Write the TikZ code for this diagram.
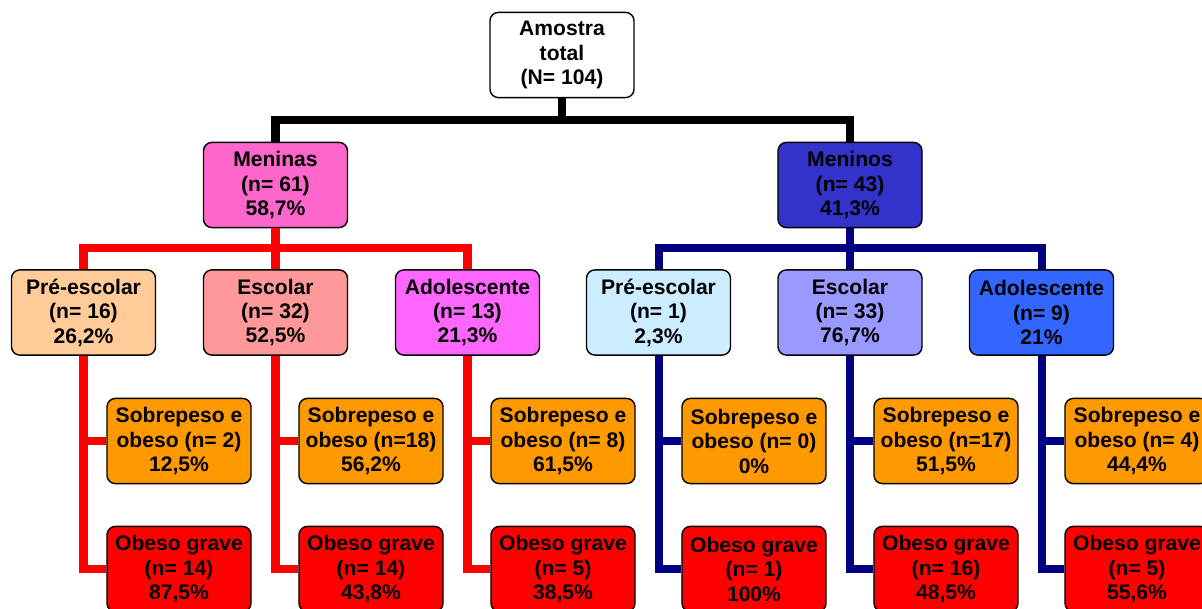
\documentclass[tikz,border=0pt]{standalone}
\usepackage{fontspec}
\setmainfont{Liberation Sans}
\usetikzlibrary{calc}
\definecolor{GirlTop}{HTML}{FF66CC}
\definecolor{BoyTop}{HTML}{3333CC}
\definecolor{GirlPre}{HTML}{FFCC99}
\definecolor{GirlEsc}{HTML}{FF9999}
\definecolor{GirlAdo}{HTML}{FF66FF}
\definecolor{BoyPre}{HTML}{CCECFF}
\definecolor{BoyEsc}{HTML}{9999FF}
\definecolor{BoyAdo}{HTML}{3366FF}
\definecolor{OverW}{HTML}{FF9900}
\definecolor{Severe}{HTML}{FF0000}
\definecolor{BoyLine}{HTML}{000080}

\begin{document}
\begin{tikzpicture}[x=0.025cm,y=-0.025cm]
    \tikzset{box/.style={rounded corners=6pt,draw=black,line width=1pt,fill=white,
      minimum width=3.6cm,minimum height=2.13cm,align=center,inner sep=1pt,
      font=\fontsize{15}{17.4}\selectfont\bfseries},
      trunk/.style={line width=5.7pt},
      girlline/.style={trunk,draw=Severe},
      boyline/.style={trunk,draw=BoyLine}}
    \clip (0,0) rectangle (1202,609);
    % levels
    \node[box] (root) at (562,55) {Amostra\\total\\(N= 104)};
    \node[box,fill=GirlTop] (girls) at (275.5,185) {Meninas\\(n= 61)\\58,7\%};
    \node[box,fill=BoyTop] (boys) at (850,185) {Meninos\\(n= 43)\\41,3\%};
    \node[box,fill=GirlPre] (gpre) at (83.5,312.5) {Pré-escolar\\(n= 16)\\26,2\%};
    \node[box,fill=GirlEsc] (gesc) at (275.5,312.5) {Escolar\\(n= 32)\\52,5\%};
    \node[box,fill=GirlAdo] (gado) at (467.5,312.5) {Adolescente\\(n= 13)\\21,3\%};
    \node[box,fill=BoyPre] (bpre) at (658.5,312.5) {Pré-escolar\\(n= 1)\\2,3\%};
    \node[box,fill=BoyEsc] (besc) at (850,312.5) {Escolar\\(n= 33)\\76,7\%};
    \node[box,fill=BoyAdo] (bado) at (1041.5,312.5) {Adolescente\\(n= 9)\\21\%};
    % sobrepeso e obeso
    \node[box,fill=OverW] (gpres) at (179,441) {Sobrepeso e\\obeso (n= 2)\\12,5\%};
    \node[box,fill=OverW] (gescs) at (371,441) {Sobrepeso e\\obeso (n=18)\\56,2\%};
    \node[box,fill=OverW] (gados) at (563,441) {Sobrepeso e\\obeso (n= 8)\\61,5\%};
    \node[box,fill=OverW] (bpres) at (754,441) {Sobrepeso e\\obeso (n= 0)\\0\%};
    \node[box,fill=OverW] (bescs) at (946,441) {Sobrepeso e\\obeso (n=17)\\51,5\%};
    \node[box,fill=OverW] (bados) at (1137,441) {Sobrepeso e\\obeso (n= 4)\\44,4\%};
    % obeso grave
    \node[box,fill=Severe] (gpreo) at (179,569) {Obeso grave\\(n= 14)\\87,5\%};
    \node[box,fill=Severe] (gesco) at (371,569) {Obeso grave\\(n= 14)\\43,8\%};
    \node[box,fill=Severe] (gadoo) at (563,569) {Obeso grave\\(n= 5)\\38,5\%};
    \node[box,fill=Severe] (bpreo) at (754,569) {Obeso grave\\(n= 1)\\100\%};
    \node[box,fill=Severe] (besco) at (946,569) {Obeso grave\\(n= 16)\\48,5\%};
    \node[box,fill=Severe] (badoo) at (1137,569) {Obeso grave\\(n= 5)\\55,6\%};
    % connectors
    \coordinate (rj) at (562,120);
    \coordinate (gj) at (275.5,248);
    \coordinate (bj) at (850,248);
    \draw[trunk] (root.south) -- (rj);
    \draw[trunk] (rj) -| (girls.north);
    \draw[trunk] (rj) -| (boys.north);
    \draw[girlline] (girls.south) -- (gj);
    \draw[girlline] (gj) -| (gpre.north);
    \draw[girlline] (gj) -| (gado.north);
    \draw[girlline] (gj) -- (gesc.north);
    \draw[boyline] (boys.south) -- (bj);
    \draw[boyline] (bj) -| (bpre.north);
    \draw[boyline] (bj) -| (bado.north);
    \draw[boyline] (bj) -- (besc.north);
    \foreach \p in {gpre,gesc,gado}{
      \draw[girlline] (\p.south) |- (\p s.west);
      \draw[girlline] (\p.south) |- (\p o.west);
    }
    \foreach \p in {bpre,besc,bado}{
      \draw[boyline] (\p.south) |- (\p s.west);
      \draw[boyline] (\p.south) |- (\p o.west);
    }
  \end{tikzpicture}
\end{document}
